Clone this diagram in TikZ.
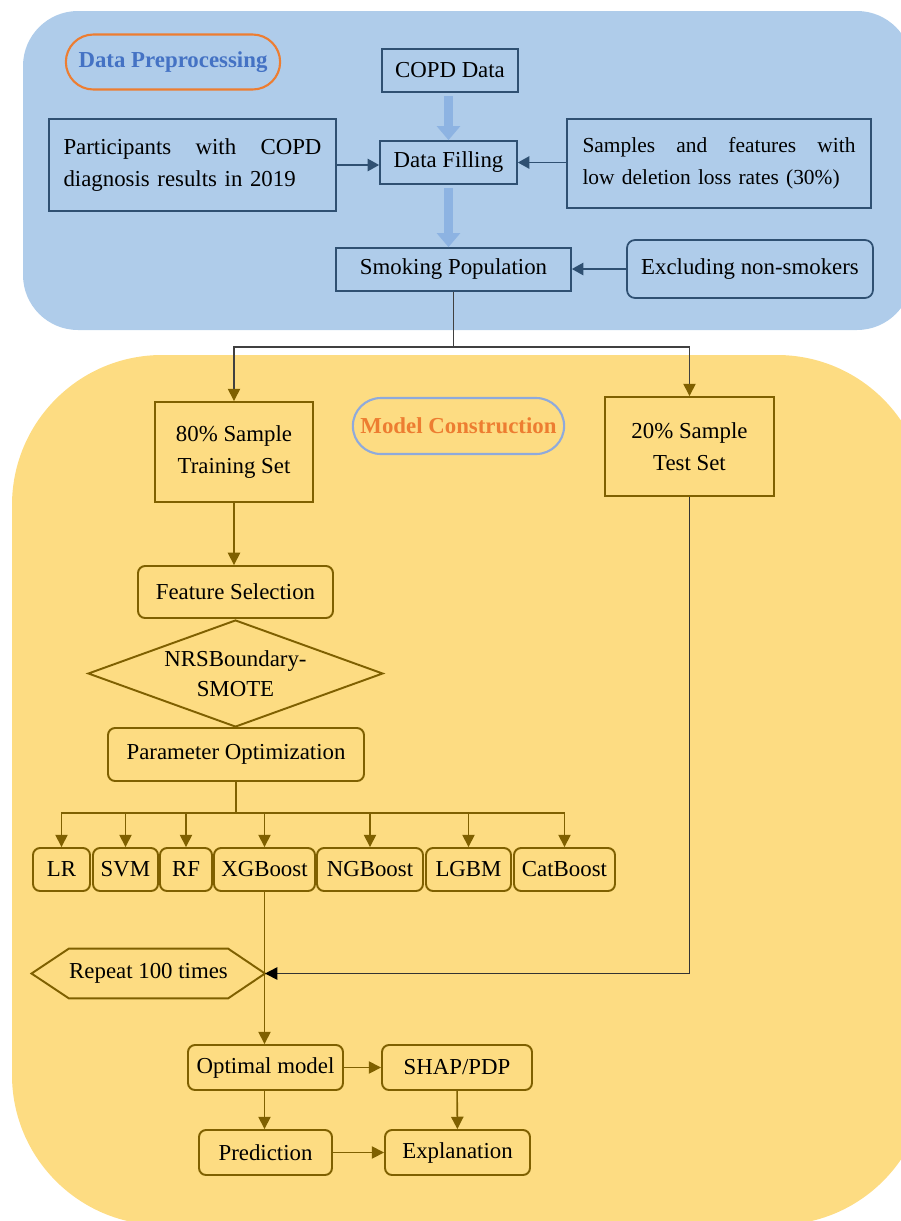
\documentclass[tikz,border=0pt]{standalone}
\usepackage{fontspec}
\setmainfont{Liberation Serif}
\usetikzlibrary{arrows.meta,shapes.geometric,shapes.misc}
\definecolor{dp_panel}{HTML}{AFCCEA}
\definecolor{mc_panel}{HTML}{FDDC82}
\definecolor{dp_navy}{HTML}{2F5072}
\definecolor{dp_arrow}{HTML}{8DB3E2}
\definecolor{mc_olive}{HTML}{7F6000}
\definecolor{hd_orange}{HTML}{ED7D31}
\definecolor{hd_blue}{HTML}{4472C4}
\definecolor{hd_lightblue}{HTML}{8FAADC}

\tikzset{
    navybox/.style={draw=dp_navy, line width=1pt, inner sep=0pt, minimum height=0.86cm},
    olivebox/.style={draw=mc_olive, line width=1.1pt, inner sep=0pt, minimum height=0.86cm},
    roundbox/.style={olivebox, rounded corners=0.14cm},
    pill/.style={rounded rectangle, line width=1.2pt, font=\fontsize{13}{15.5}\selectfont\bfseries},
    navyarrow/.style={draw=dp_navy, line width=0.9pt, -{Triangle[length=6.5pt,width=7pt]}},
    bigarrow/.style={draw=dp_arrow, line width=5.5pt, -{Triangle[length=8pt,width=13pt]}, shorten <=2pt},
    olivearrow/.style={draw=mc_olive, line width=0.9pt, -{Triangle[length=7pt,width=7pt]}},
    splitarrow/.style={draw=black!75, line width=0.8pt, -{Triangle[length=7pt,width=7pt,color=mc_olive]}},
}

\begin{document}
\begin{tikzpicture}[x=0.02cm, y=-0.02cm, font=\fontsize{13}{18}\selectfont]
    \useasboundingbox (0,0) rectangle (901,1221);

    % panels
    \begin{scope}
        \clip (0,0) rectangle (901,1221);
        \fill[dp_panel, rounded corners=1.1cm] (23,11) rectangle (912,330);
        \fill[mc_panel, rounded corners=3cm] (12,355) rectangle (927,1225);
    \end{scope}

    % data preprocessing
    \node[pill, draw=hd_orange, text=hd_blue, minimum width=4.52cm, minimum height=1.1cm] (dphead) at (173,62) {Data Preprocessing};

    \node[navybox, minimum width=2.72cm] (copd) at (450,70.5) {COPD Data};
    \node[navybox, minimum width=2.74cm] (fill) at (448.5,162.5) {Data Filling};
    \node[navybox, minimum width=5.74cm, minimum height=1.84cm, text width=5.16cm, align=left] (part) at (192.5,165)
        {Participants\hfill with\hfill COPD\\diagnosis results in 2019};
    \node[navybox, minimum width=6.08cm, minimum height=1.78cm, text width=5.46cm, align=left, font=\fontsize{12.2}{18}\selectfont] (samp) at (719,163.5)
        {Samples\hfill and\hfill features\hfill with\\low deletion loss rates (30\%)};
    \node[navybox, minimum width=4.7cm] (smoke) at (453.5,269.5) {Smoking Population};
    \node[navybox, rounded corners=0.16cm, minimum width=4.92cm, minimum height=1.16cm] (excl) at (750,269) {Excluding non-smokers};

    \draw[bigarrow] (fill.north |- copd.south) -- (fill.north);
    \draw[bigarrow] (fill.south) -- (fill.south |- smoke.north);
    \draw[navyarrow] (part) -- (part -| fill.west);
    \draw[navyarrow] (samp.west |- fill) -- (fill);
    \draw[navyarrow] (excl) -- (excl -| smoke.east);

    % model construction
    \node[pill, draw=hd_lightblue, text=hd_orange, minimum width=4.46cm, minimum height=1.12cm] (mchead) at (458.5,426) {Model Construction};

    \node[olivebox, minimum width=3.16cm, minimum height=2cm, align=center] (train) at (234,452) {80\% Sample\\Training Set};
    \node[olivebox, minimum width=3.38cm, minimum height=1.98cm, align=center] (test) at (689.5,446.5) {20\% Sample\\Test Set};
    \node[roundbox, minimum width=3.9cm, minimum height=1.04cm] (feat) at (235.5,592) {Feature Selection};
    \node[diamond, draw=mc_olive, line width=1.1pt, aspect=2.75, inner sep=0pt, minimum width=5.9cm, minimum height=2.14cm, align=center, font=\fontsize{13}{17}\selectfont] (nrs) at (235.5,673.5) {NRSBoundary-\\SMOTE};
    \node[roundbox, minimum width=5.12cm, minimum height=1.06cm] (popt) at (236,754.5) {Parameter Optimization};

    \node[roundbox, minimum width=1.14cm] (lr) at (61.5,869.5) {LR};
    \node[roundbox, minimum width=1.30cm] (svm) at (125.5,869.5) {SVM};
    \node[roundbox, minimum width=1.04cm] (rf) at (186,869.5) {RF};
    \node[roundbox, minimum width=2.02cm] (xgb) at (264.5,869.5) {XGBoost};
    \node[roundbox, minimum width=2.12cm] (ngb) at (370,869.5) {NGBoost};
    \node[roundbox, minimum width=1.70cm] (lgbm) at (468.5,869.5) {LGBM};
    \node[roundbox, minimum width=2.02cm] (cat) at (564.5,869.5) {CatBoost};

    \node[minimum width=2.74cm, minimum height=0.98cm, inner sep=0pt] (rep) at (148.5,973.5) {Repeat 100 times};
    \coordinate (reptip) at (265,973.5);
    \draw[mc_olive, line width=1.1pt] (rep.north west) -- (rep.north east) -- (reptip) -- (rep.south east)
        -- (rep.south west) -- (31.5,973.5) -- cycle;

    \node[roundbox, minimum width=3.1cm, minimum height=0.9cm] (opt) at (265.5,1067.5) {Optimal model};
    \node[roundbox, minimum width=3.0cm, minimum height=0.9cm] (shap) at (457,1067.5) {SHAP/PDP};
    \node[roundbox, minimum width=2.66cm, minimum height=0.9cm] (pred) at (265.5,1152.5) {Prediction};
    \node[roundbox, minimum width=2.9cm, minimum height=0.9cm] (expl) at (457.5,1152.5) {Explanation};

    % connectors
    \coordinate (split1) at (453.5,347);
    \draw[black!75, line width=0.8pt] (smoke) -- (split1);
    \draw[splitarrow] (split1) -| (train);
    \draw[splitarrow] (split1) -| (test);

    \draw[olivearrow] (train) -- (train |- feat.north);

    \coordinate (split2) at (236,813);
    \draw[mc_olive, line width=0.9pt] (popt) -- (split2);
    \foreach \m in {lr,svm,rf,xgb,ngb,lgbm,cat}
        \draw[olivearrow] (split2) -| (\m);

    \draw[olivearrow] (xgb.south) -- (xgb.south |- opt.north);
    \draw[black!80, line width=0.9pt, -{Triangle[length=7pt,width=7pt,color=black]}] (test) |- (reptip);

    \draw[olivearrow] (opt) -- (shap);
    \draw[olivearrow] (opt.south -| xgb.south) -- (pred.north -| xgb.south);
    \draw[olivearrow] (shap) -- (expl);
    \draw[olivearrow] (pred) -- (expl);

\end{tikzpicture}
\end{document}
